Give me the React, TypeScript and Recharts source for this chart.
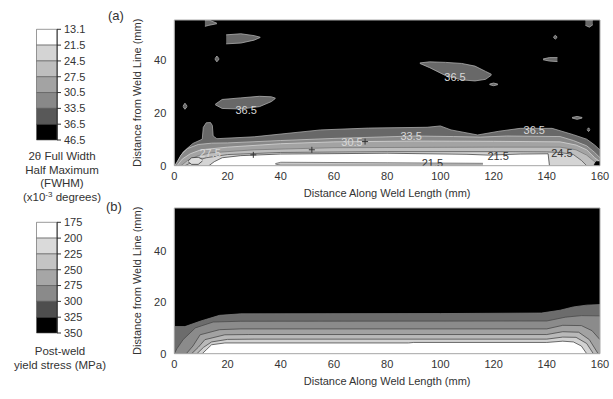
import React from 'react';
import { ComposedChart, Area, Scatter, XAxis, YAxis, ReferenceArea, BarChart, Bar } from 'recharts';

type Pt = [number, number];
type Rg = [number, number, number];

const xTicks = [0, 20, 40, 60, 80, 100, 120, 140, 160];
const yTicks = [0, 20, 40];

// (a) FWHM contour boundaries, x10^-3 degrees: [x mm, y mm]
const fwhm365: Pt[] = [[0, 0], [0.9, 0.8], [3.3, 5.2], [7, 8.4], [10.5, 10], [10.9, 14.5], [12, 16.2], [13.6, 16.3], [14.3, 15.2], [14.6, 11.2], [16, 10.2], [30, 10.9], [55, 13.5], [73, 14.2], [95, 14.5], [100, 15], [104, 13.5], [114, 11.6], [122, 13], [130, 14.1], [142, 14.1], [150, 11.7], [155, 10], [158, 7.8], [160, 5.9]];
const fwhm335: Pt[] = [[0, 0], [0.8, 1], [2.5, 4], [5, 6.5], [9, 8], [14, 8.5], [20, 8.6], [40, 9.5], [60, 10.3], [90, 11.2], [105, 11], [115, 10.8], [125, 11.2], [145, 11], [150, 9.5], [155, 7.5], [158, 5], [160, 3]];
const fwhm305: Pt[] = [[1, 0], [3, 2.5], [6, 4.5], [10, 6], [20, 7], [40, 8.3], [60, 9], [90, 9.3], [120, 9.2], [145, 9], [151, 7.8], [155, 6], [158, 3], [160, 1.5]];
const fwhm275: Pt[] = [[2.5, 0], [5, 2], [9, 3.8], [14, 4.9], [30, 6], [60, 6.8], [120, 7], [145, 7], [151, 6], [155, 4], [158, 1.5], [159.5, 0]];
const fwhm245: Pt[] = [[4, 0], [7, 1.5], [12, 3], [20, 4.2], [40, 5], [80, 5.3], [120, 5.3], [140, 5.2], [145, 5], [150, 4.2], [153, 2], [155, 0]];
const fwhm215: Pt[] = [[13, 0], [15, 1.5], [18, 3], [25, 3.8], [40, 4.4], [80, 4.7], [110, 4.3], [118, 4], [130, 4.4], [140.5, 4.5], [141, 0]];

// (a) closed contours: [x, low, high]
const islands365: Rg[][] = [
  [[15.4, 23, 23.2], [18, 21.6, 25], [25, 21.4, 25.6], [32, 22.3, 26.2], [36.5, 24.2, 26], [38, 25.4, 25.5]],
  [[19.5, 46, 49.4], [25, 46.3, 49.8], [30, 47.4, 49.1], [32.3, 48.4, 48.5]],
  [[11.5, 52.6, 55], [13, 53, 55], [16, 53.6, 53.8]],
  [[15.3, 40.2, 40.4], [16, 39.2, 41.4], [16.8, 40.2, 40.4]],
  [[3.3, 22.3, 22.5], [4, 21.3, 23.6], [4.8, 22.3, 22.5]],
  [[92.3, 38.6, 38.8], [96, 37, 39.2], [102, 34, 39], [108, 32.4, 38.6], [113, 32, 37.6], [117, 32.6, 35.6], [119.2, 34.2, 34.5]],
  [[118.5, 30.6, 30.8], [120, 30.2, 31.2], [121.6, 30.6, 30.8]],
  [[138.6, 40, 40.3], [141, 39.5, 40.8], [144, 39.3, 40.8]],
  [[142.5, 48.4, 48.6], [143.2, 47.8, 49.2], [143.9, 48.4, 48.6]],
  [[154.5, 53, 55], [156, 52.3, 55], [157.3, 53.2, 55]],
  [[149.5, 18, 18.2], [151.4, 17.5, 18.6], [153.3, 18, 18.2]],
  [[155.2, 13.5, 13.7], [155.7, 12.9, 14.3], [156.2, 13.5, 13.7]],
];
const sliver215: Rg[] = [[38, 0.6, 0.8], [40, 0.2, 1.3], [80, 0.2, 1.1], [116, 0.2, 0.9]];
const loopNearStart: Rg[] = [[5.2, 1.5, 1.8], [6.5, 0.5, 3], [9, 0.5, 3.2], [10.6, 1.8, 2.4]];
const cornerSpot: Rg[] = [[157.8, 0, 0.3], [158.5, 0, 1.5], [160, 0, 1.5]];

const lightLabels = [
  { x: 27, y: 21.2, t: '36.5' },
  { x: 105.5, y: 33.3, t: '36.5' },
  { x: 135.3, y: 13.6, t: '36.5' },
  { x: 89, y: 11.3, t: '33.5' },
  { x: 66.8, y: 8.9, t: '30.5' },
  { x: 13.5, y: 4.8, t: '27.5' },
];
const darkLabels = [
  { x: 97, y: 1.2, t: '21.5' },
  { x: 121.7, y: 3.7, t: '21.5' },
  { x: 145.7, y: 4.8, t: '24.5' },
];
const plusMarks = [{ x: 29.7, y: 4.1 }, { x: 51.7, y: 6 }, { x: 71.7, y: 9.1 }];

// (b) post-weld yield stress contour boundaries, MPa
const ys325: Pt[] = [[0, 10.6], [4, 10.6], [10, 12.8], [17, 15], [25, 15.6], [100, 15.7], [138, 15.9], [145, 17], [150, 18.3], [155, 19], [160, 19.2]];
const ys300: Pt[] = [[0, 0], [1, 2], [3.3, 5.5], [7.9, 10.1], [14.6, 12.4], [25, 12.7], [140, 12.8], [147, 14.3], [153, 14.9], [160, 14.8]];
const ys275: Pt[] = [[4.5, 0], [7, 3], [9.7, 7.4], [17, 9.4], [25, 9.7], [140, 9.7], [146, 11.1], [153, 11], [157, 9], [160, 5.5]];
const ys250: Pt[] = [[6.5, 0], [9, 2.5], [11.5, 5.5], [19, 7.4], [28, 7.5], [140, 7.5], [146, 8.6], [152, 8.4], [156, 5.5], [159.3, 0]];
const ys225: Pt[] = [[8.5, 0], [11, 2.5], [14, 4.6], [20, 5.6], [30, 5.7], [140, 5.7], [146, 6.5], [151, 6.4], [155, 4], [157.5, 0]];
const ys200: Pt[] = [[10.5, 0], [12, 1.5], [14, 3.5], [19, 4.2], [88, 4.2], [90, 4.4], [140, 4.4], [146, 4.9], [150, 4.6], [153, 3], [155, 0]];

const fwhmTicks = ['13.1', '21.5', '24.5', '27.5', '30.5', '33.5', '36.5', '46.5'];
const fwhmShades = ['#ffffff', '#d4d4d4', '#bebebe', '#a3a3a3', '#898989', '#585858', '#000000'];
const ysTicks = ['175', '200', '225', '250', '275', '300', '325', '350'];
const ysShades = ['#ffffff', '#dadada', '#c4c4c4', '#a6a6a6', '#8a8a8a', '#4e4e4e', '#000000'];

const toPts = (a: Pt[]) => a.map(([x, y]) => ({ x, y }));
const toRange = (a: Rg[]) => a.map(([x, lo, hi]) => ({ x, y: [lo, hi] }));

const FONT = '"Liberation Sans", Arial, sans-serif';
const tickStyle = { fontSize: 11, fill: '#333' };

const band = (key: string, data: any[], fill: string, stroke: string) => (
  <Area key={key} data={data} dataKey="y" type="linear" fill={fill} fillOpacity={1} stroke={stroke}
    strokeWidth={0.8} dot={false} activeDot={false} isAnimationActive={false} />
);

const LabelShape = (color: string) => (p: any) => (
  <text x={p.cx} y={p.cy} textAnchor="middle" dominantBaseline="central" fontSize={11} fill={color}>{p.payload.t}</text>
);
const PlusShape = (p: any) => (
  <path d={`M${p.cx - 3},${p.cy}h6M${p.cx},${p.cy - 3}v6`} stroke="#333" strokeWidth={1} />
);

function ContourPanel({ yMax, children }: { yMax: number; children: React.ReactNode }) {
  return (
    <ComposedChart width={510} height={200} margin={{ top: 20, right: 10, bottom: 0, left: 34.3 }}>
      <XAxis type="number" dataKey="x" domain={[0, 160]} ticks={xTicks} allowDataOverflow tickLine={false}
        axisLine={false} tick={tickStyle} tickSize={4} tickMargin={2} height={34.3} interval={0}
        label={{ value: 'Distance Along Weld Length (mm)', position: 'insideBottom', offset: 3, fontSize: 11, fill: '#333' }} />
      <YAxis type="number" domain={[0, yMax]} ticks={yTicks} allowDataOverflow tickLine={false} axisLine={false}
        tick={tickStyle} tickSize={4} tickMargin={4} width={40} interval={0}
        label={{ value: 'Distance from Weld Line (mm)', angle: -90, position: 'insideLeft', offset: 3, fontSize: 11, fill: '#333', style: { textAnchor: 'middle' } }} />
      {band('bg', toPts([[0, yMax], [160, yMax]]), '#000', 'none')}
      {children}
      <ReferenceArea x1={0} x2={160} y1={0} y2={yMax} fill="none" stroke="#aaa" strokeWidth={1} ifOverflow="visible" />
    </ComposedChart>
  );
}

function ColorBar({ labels, shades }: { labels: string[]; shades: string[] }) {
  const row = [Object.fromEntries([['name', 'c'], ...shades.map((_, i) => ['b' + i, 1])])];
  return (
    <BarChart width={100} height={150} data={row} margin={{ top: 29.3, left: 36.5, right: 3, bottom: 10 }} barCategoryGap={0}>
      <XAxis dataKey="name" hide />
      <YAxis orientation="right" type="number" domain={[0, shades.length]} reversed ticks={labels.map((_, i) => i)}
        interval={0} tickFormatter={(v: number) => labels[v]} width={40} tickSize={4} tickMargin={3} tick={tickStyle}
        stroke="#333" />
      {shades.map((c, i) => (
        <Bar key={i} dataKey={'b' + i} stackId="s" fill={c} stroke="#555" strokeWidth={0.6} isAnimationActive={false} />
      ))}
    </BarChart>
  );
}

export default function App() {
  return (
    <div style={{ position: 'absolute', left: 0, top: 0, width: 613, height: 399, background: '#fff', fontFamily: FONT, color: '#333' }}>
      <div style={{ position: 'absolute', left: 0, top: 0 }}>
        <ColorBar labels={fwhmTicks} shades={fwhmShades} />
      </div>
      <div style={{ position: 'absolute', left: 0, top: 150, width: 124, textAlign: 'center', fontSize: 11.5, lineHeight: '13.5px' }}>
        2θ Full Width<br />Half Maximum<br />(FWHM)<br />(x10<sup style={{ fontSize: 8, verticalAlign: 'top', lineHeight: '8px' }}>-3</sup> degrees)
      </div>
      <div style={{ position: 'absolute', left: 0, top: 193 }}>
        <ColorBar labels={ysTicks} shades={ysShades} />
      </div>
      <div style={{ position: 'absolute', left: 0, top: 345, width: 120, textAlign: 'center', fontSize: 11.5, lineHeight: '13.5px' }}>
        Post-weld<br />yield stress (MPa)
      </div>

      <div style={{ position: 'absolute', left: 108, top: 8, fontSize: 13 }}>(a)</div>
      <div style={{ position: 'absolute', left: 106, top: 199, fontSize: 13 }}>(b)</div>

      <div style={{ position: 'absolute', left: 100, top: 0 }}>
        <ContourPanel yMax={55}>
          {band('a365', toPts(fwhm365), '#686868', '#aaaaaa')}
          {band('a335', toPts(fwhm335), '#898989', '#c4c4c4')}
          {band('a305', toPts(fwhm305), '#a3a3a3', '#d6d6d6')}
          {band('a275', toPts(fwhm275), '#bebebe', '#7a7a7a')}
          {band('a245', toPts(fwhm245), '#d4d4d4', '#555555')}
          {band('a215', toPts(fwhm215), '#ffffff', '#444444')}
          {islands365.map((isl, i) => band('isl' + i, toRange(isl), '#686868', '#b0b0b0'))}
          {band('sliver', toRange(sliver215), '#c8c8c8', '#666666')}
          {band('loop', toRange(loopNearStart), '#dddddd', '#333333')}
          {band('corner', toRange(cornerSpot), '#000000', '#000000')}
          <Scatter data={lightLabels} dataKey="y" shape={LabelShape('#d8d8d8')} isAnimationActive={false} />
          <Scatter data={darkLabels} dataKey="y" shape={LabelShape('#333333')} isAnimationActive={false} />
          <Scatter data={plusMarks} dataKey="y" shape={PlusShape} isAnimationActive={false} />
        </ContourPanel>
      </div>

      <div style={{ position: 'absolute', left: 100, top: 188.3 }}>
        <ContourPanel yMax={57}>
          {band('b325', toPts(ys325), '#6c6c6c', '#7a7a7a')}
          {band('b300', toPts(ys300), '#8b8b8b', '#4a4a4a')}
          {band('b275', toPts(ys275), '#a2a2a2', '#4a4a4a')}
          {band('b250', toPts(ys250), '#b9b9b9', '#4a4a4a')}
          {band('b225', toPts(ys225), '#d2d2d2', '#4a4a4a')}
          {band('b200', toPts(ys200), '#ffffff', '#4a4a4a')}
        </ContourPanel>
      </div>
    </div>
  );
}
